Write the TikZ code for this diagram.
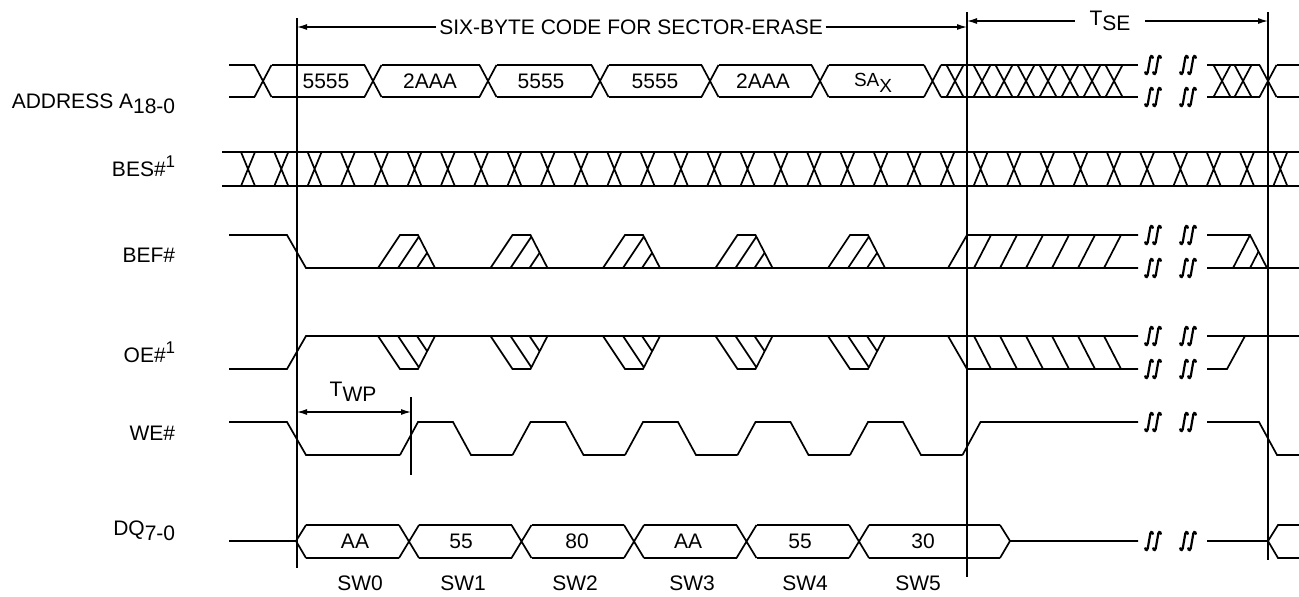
\documentclass[tikz,border=0pt]{standalone}
\usepackage{fontspec}
\setmainfont{Liberation Sans}
\usetikzlibrary{arrows.meta}

\newcommand{\lowtxt}[1]{\raisebox{-2.5pt}{#1}}
\newcommand{\uptxt}[1]{\raisebox{4.5pt}{\fontsize{8.5}{9}\selectfont #1}}

\tikzset{
    sig/.style = {line width=0.85pt},
    guide/.style = {line width=0.75pt},
    dimarrow/.style = {line width=0.6pt, -{Latex[length=5pt,width=3pt]}},
    dimboth/.style = {line width=0.6pt, {Latex[length=5pt,width=3pt]}-{Latex[length=5pt,width=3pt]}},
    lbl/.style = {inner sep=0pt},
    brk/.pic = {
        \foreach \s in {-4,4}
            \draw[line width=1.1pt] (\s+4,-6.5) .. controls (\s+3.5,-10.5) and (\s+1,-10) .. (\s+0.7,-4) -- (\s-0.7,4) .. controls (\s-1,10) and (\s-3.5,10.5) .. (\s-4,6.5);
    }
}

\begin{document}
\begin{tikzpicture}[x=0.5pt, y=-0.5pt, font=\fontsize{10.5}{12.6}\selectfont, sig]
    \useasboundingbox (0,0) rectangle (1299,596);

    % reference lines
    \coordinate (m0) at (297,18);
    \coordinate (m0b) at (297,568);
    \coordinate (m1) at (967,12);
    \coordinate (m1b) at (967,577);
    \coordinate (m2) at (1268,12);
    \coordinate (m2b) at (1268,560);
    \draw[guide] (m0) -- (m0b);
    \draw[guide] (m1) -- (m1b);
    \draw[guide] (m2) -- (m2b);

    % timing marks
    \node[lbl, inner xsep=1pt] (six) at (631,27) {SIX-BYTE CODE FOR SECTOR-ERASE};
    \draw[dimarrow] (six.west) -- (six.west -| m0);
    \draw[dimarrow] (six.east) -- (six.east -| m1);
    \node[lbl, inner xsep=7pt] (tse) at (1110,21) {T\lowtxt{SE}};
    \draw[dimarrow] (tse.west) -- (tse.west -| m1);
    \draw[dimarrow] (tse.east) -- (tse.east -| m2);
    \node[lbl] (twp) at (353,392) {T\lowtxt{WP}};
    \coordinate (wp0) at (297,412);
    \coordinate (wp1) at (411,412);
    \coordinate (wpt) at (411,397);
    \coordinate (wpb) at (411,475);
    \draw[dimboth] (wp0) -- (wp1);
    \draw[guide] (wpt) -- (wpb);

    % signal names
    \node[lbl, anchor=base east] (addr) at (176,108) {ADDRESS A\lowtxt{18-0}};
    \node[lbl, anchor=base east] (bes) at (176,176) {BES\#\uptxt{1}};
    \node[lbl, anchor=base east] (bef) at (176,262) {BEF\#};
    \node[lbl, anchor=base east] (oe) at (176,362) {OE\#\uptxt{1}};
    \node[lbl, anchor=base east] (we) at (176,440) {WE\#};
    \node[lbl, anchor=base east] (dq) at (176,535) {DQ\lowtxt{7-0}};

    % address
    \draw (229,65) -- (254.5,65) (229,97) -- (254.5,97);
    \foreach \p/\q in {263/373, 373/488, 488/600, 600/710, 710/820, 820/932.5}
        \draw (\p+8.5,65) -- (\q-8.5,65) (\p+8.5,97) -- (\q-8.5,97);
    \foreach \c in {263,373,488,600,710,820,932.5,955,982,1004,1026,1048,1070,1092,1114,1222,1243,1268}
        \draw (\c-8.5,65) -- (\c+8.5,97) (\c-8.5,97) -- (\c+8.5,65);
    \draw (941,65) -- (1138,65) (941,97) -- (1138,97);
    \draw (1207,65) -- (1259.5,65) (1207,97) -- (1259.5,97);
    \draw (1276.5,65) -- (1299,65) (1276.5,97) -- (1299,97);
    \foreach \x/\t [count=\i] in {326/5555, 430/2AAA, 541/5555, 655/5555, 763/2AAA}
        \node[lbl] (a\i) at (\x,81) {\t};
    \node[lbl, anchor=base] (a6) at (873,86) {\fontsize{9.5}{10}\selectfont SA\raisebox{-3pt}{X}};

    % BES#
    \draw[line width=1.1pt] (222,152) -- (1299,152);
    \draw (222,186) -- (1299,186);
    \foreach \k in {0,...,31}
        \draw ({248+33.3*\k-7},152) -- ({248+33.3*\k+7},186) ({248+33.3*\k-7},186) -- ({248+33.3*\k+7},152);

    % BEF#
    \draw (229,235) -- (287,235) -- (306,268) -- (1138,268);
    \foreach \a in {378,490.5,603,715.5,828} {
        \draw (\a,268) -- ++(22,-33) -- ++(18,0) -- ++(17,33);
        \begin{scope}
            \clip (\a,268) -- ++(22,-33) -- ++(18,0) -- ++(17,33) -- cycle;
            \draw (\a+20,268) -- ++(22,-33) (\a+39,268) -- ++(22,-33);
        \end{scope}
    }
    \draw (948,268) -- (967,235) -- (1138,235);
    \foreach \b in {974,1000,1026,1052,1078,1104}
        \draw (\b,268) -- ++(17,-33);
    \draw (1207,235) -- (1250,235) -- (1267,268);
    \draw (1207,268) -- (1299,268);
    \draw (1233,268) -- (1250,235) (1250,268) -- (1258.5,251.5);

    % OE#
    \draw (229,369) -- (287,369) -- (306,336) -- (1138,336);
    \foreach \a in {378,490.5,603,715.5,828} {
        \draw (\a,336) -- ++(22,33) -- ++(18,0) -- ++(17,-33);
        \begin{scope}
            \clip (\a,336) -- ++(22,33) -- ++(18,0) -- ++(17,-33) -- cycle;
            \draw (\a+20,336) -- ++(22,33) (\a+39,336) -- ++(22,33);
        \end{scope}
    }
    \draw (948,336) -- (967,369) -- (1138,369);
    \foreach \b in {974,1000,1026,1052,1078,1104}
        \draw (\b,336) -- ++(17,33);
    \draw (1207,336) -- (1299,336);
    \draw (1207,369) -- (1227,369) -- (1245,336);

    % WE#
    \draw (229,422) -- (287,422) -- (306,455) -- (400,455);
    \foreach \k in {0,...,4}
        \draw ({400+112.5*\k},455) -- ++(18,-33) -- ++(35,0) -- ++(18,33) -- ++(41.5,0);
    \draw (962.5,455) -- (980.5,422) -- (1138,422);
    \draw (1207,422) -- (1259,422) -- (1277,455) -- (1299,455);

    % DQ
    \draw (229,541) -- (296,541) -- (306,525) (296,541) -- (306,558);
    \foreach \p/\q in {296/409, 409/521.5, 521.5/634, 634/746.5, 746.5/859, 859/1010}
        \draw (\p+10,525) -- (\q-10,525) (\p+10,558) -- (\q-10,558);
    \foreach \c in {409,521.5,634,746.5,859}
        \draw (\c-10,525) -- (\c+10,558) (\c-10,558) -- (\c+10,525);
    \draw (1000,525) -- (1010,541) -- (1000,558) (1010,541) -- (1138,541);
    \draw (1207,541) -- (1268,541) -- (1278,525) -- (1299,525) (1268,541) -- (1278,558) -- (1299,558);
    \foreach \x/\t [count=\i from 0] in {355/AA, 461/55, 577/80, 688/AA, 800/55, 923/30}
        \node[lbl] (d\i) at (\x,541) {\t};
    \foreach \x [count=\i from 0] in {360,463,575,692,805,918}
        \node[lbl, anchor=base] (sw\i) at (\x,590) {SW\i};

    % breaks
    \foreach \y in {65,97,235,268,336,369,422,541}
        \foreach \x in {1153,1188}
            \pic at (\x,\y) {brk};
    % \draw (1138,20) -- (1207,20);
\end{tikzpicture}
\end{document}
